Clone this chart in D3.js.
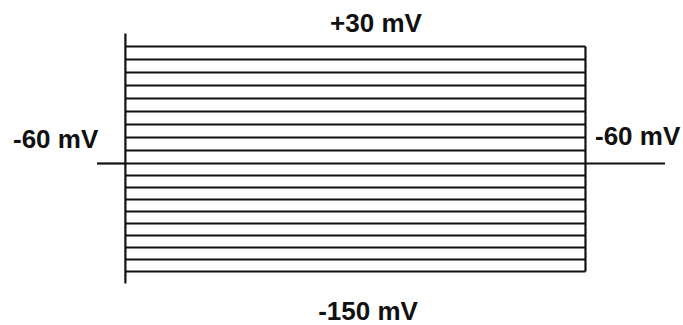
<!DOCTYPE html>
<html lang="en">
<head>
  <meta charset="UTF-8" />
  <title>Voltage step protocol</title>
  <style>
    html, body { margin: 0; padding: 0; background: #fff; }
    svg text { font-family: "Liberation Sans", Arial, sans-serif; font-weight: bold; font-size: 26px; fill: #111; }
  </style>
</head>
<body>
  <svg id="chart"></svg>

  <script src="https://d3js.org/d3.v7.min.js"></script>
  <script>
    // step potentials, mV (+30 down to -150 in 10 mV steps)
    const stepLevels = d3.range(30, -151, -10);
    const holding = -60;
    // protocol timing, ms
    const times = [0, 50, 860, 1000];
    const labels = ["+30 mV", "-60 mV", "-60 mV", "-150 mV"];

    const width = 683, height = 325;

    const svg = d3.select("#chart")
      .attr("width", width)
      .attr("height", height);

    const x = d3.scaleLinear()
      .domain([times[0], times[3]])
      .range([97, 665]);

    // traces were drawn a bit tighter below the holding level
    const y = d3.scaleLinear()
      .domain([-150, holding, 30])
      .range([271.5, 163.5, 46.5]);

    // holding segments before and after the step
    svg.append("line")
      .attr("x1", x(times[0])).attr("x2", x(times[1]))
      .attr("y1", y(holding)).attr("y2", y(holding))
      .attr("stroke", "#111").attr("stroke-width", 2.2);

    svg.append("line")
      .attr("x1", x(times[2])).attr("x2", x(times[3]))
      .attr("y1", y(holding)).attr("y2", y(holding))
      .attr("stroke", "#111").attr("stroke-width", 2.2);

    // step traces
    svg.selectAll(".step")
      .data(stepLevels)
      .join("line")
      .attr("class", "step")
      .attr("x1", x(times[1]))
      .attr("x2", x(times[2]))
      .attr("y1", d => y(d))
      .attr("y2", d => y(d))
      .attr("stroke", "#111")
      .attr("stroke-width", 1.8);

    // step onset edge (overshoots the outer traces a little)
    svg.append("line")
      .attr("x1", x(times[1])).attr("x2", x(times[1]))
      .attr("y1", y(d3.max(stepLevels) + 10)).attr("y2", y(d3.min(stepLevels) - 10))
      .attr("stroke", "#111").attr("stroke-width", 2.2);

    // step offset edge
    svg.append("line")
      .attr("x1", x(times[2])).attr("x2", x(times[2]))
      .attr("y1", y(d3.max(stepLevels))).attr("y2", y(d3.min(stepLevels)))
      .attr("stroke", "#111").attr("stroke-width", 2.2);

    // labels
    svg.append("text")
      .attr("x", 376).attr("y", 32)
      .attr("text-anchor", "middle")
      .text(labels[0]);

    svg.append("text")
      .attr("x", 13).attr("y", 148)
      .text(labels[1]);

    svg.append("text")
      .attr("x", 595).attr("y", 145)
      .text(labels[2]);

    svg.append("text")
      .attr("x", 368).attr("y", 320)
      .attr("text-anchor", "middle")
      .text(labels[3]);
  </script>
</body>
</html>
